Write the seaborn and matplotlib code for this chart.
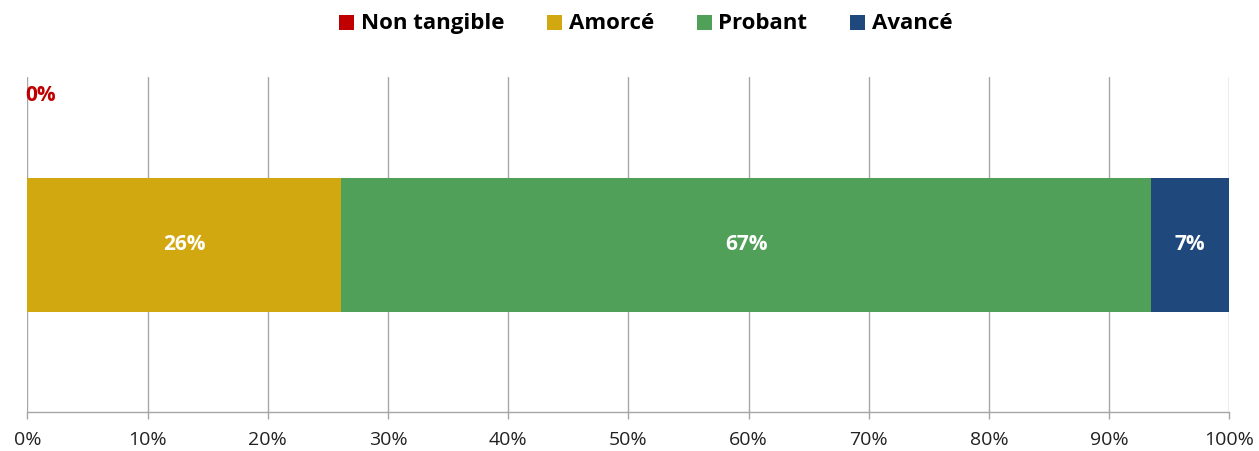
import matplotlib
matplotlib.use("Agg")
import matplotlib.pyplot as plt
import pandas as pd
import seaborn as sns
from matplotlib.lines import Line2D

# Data
categories = ["Non tangible", "Amorcé", "Probant", "Avancé"]
shares = [0.0, 26.1, 67.4, 6.5]
share_labels = ["0%", "26%", "67%", "7%"]
colors = ["#C00000", "#D2A810", "#50A05A", "#1F497D"]
x_ticks = [0, 10, 20, 30, 40, 50, 60, 70, 80, 90, 100]

df = pd.DataFrame({"category": categories, "share": shares, "label": share_labels})
df["end"] = df["share"].cumsum()
df["start"] = df["end"] - df["share"]
df["row"] = ""

sns.set_style("white")
plt.rcParams["font.family"] = ["Open Sans", "DejaVu Sans"]

fig = plt.figure(figsize=(12.59, 4.51), dpi=100)
ax = fig.add_axes([0.0218, 0.0865, 0.9546, 0.7425])

# stacked bar: draw cumulative ends from the last category backwards
for _, r in df.iloc[::-1].iterrows():
    if r["share"] <= 0:
        continue
    sns.barplot(x=[r["end"]], y=[r["row"]], orient="h", color=colors[categories.index(r["category"])],
                width=0.4, saturation=1, ax=ax, linewidth=0)

ax.set_xlim(0, 100)
ax.set_ylim(0.5, -0.5)
ax.set_xticks(x_ticks)
ax.set_xticklabels([f"{t}%" for t in x_ticks], fontsize=14, color="#222222")
ax.set_yticks([])
ax.set_xlabel("")
ax.set_ylabel("")
ax.xaxis.grid(True, color="#A6A6A6", linewidth=1.0)
ax.set_axisbelow(True)
ax.tick_params(axis="x", direction="out", length=5, width=1.0, color="#A6A6A6", pad=9, bottom=True)
for side in ["top", "right", "left"]:
    ax.spines[side].set_visible(False)
ax.spines["bottom"].set_color("#A6A6A6")
ax.spines["bottom"].set_linewidth(1.0)

# segment labels
for _, r in df.iterrows():
    if r["share"] > 0:
        ax.text((r["start"] + r["end"]) / 2, 0, r["label"], ha="center", va="center",
                color="white", fontsize=15, fontweight="bold")
    else:
        ax.text(r["start"] - 0.2, -0.445, r["label"], ha="left", va="center",
                color=colors[categories.index(r["category"])], fontsize=15, fontweight="bold")

handles = [Line2D([0], [0], marker="s", linestyle="", markersize=10.8, markerfacecolor=c,
                  markeredgewidth=0) for c in colors]
fig.legend(handles, categories, loc="center", bbox_to_anchor=(0.5123, 0.947), ncol=4, frameon=False,
           prop={"size": 16, "weight": "bold"}, handletextpad=0.25, columnspacing=1.85,
           handlelength=0.8, labelcolor="black")

fig.savefig("out.png", dpi=100)
